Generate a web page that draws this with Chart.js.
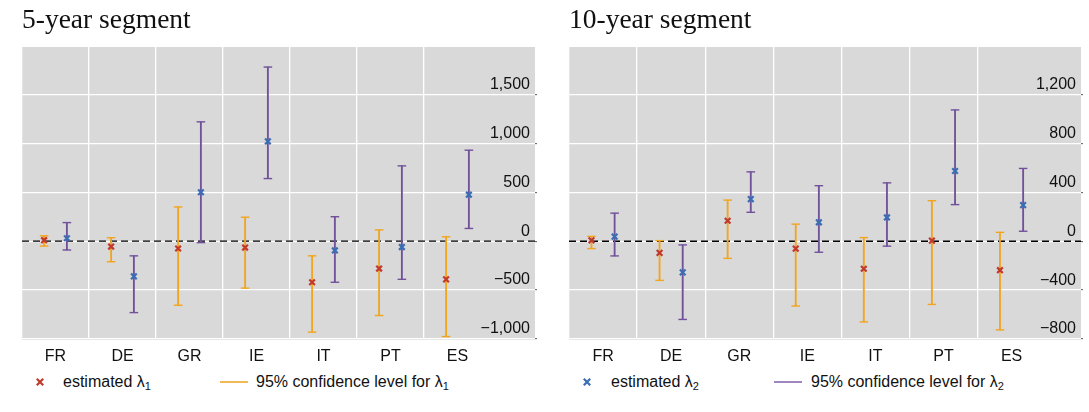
<!DOCTYPE html>
<html>
<head>
<meta charset="utf-8">
<script src="https://cdn.jsdelivr.net/npm/chart.js@4/dist/chart.umd.min.js"></script>
<style>
  body { margin: 0; background: #fff; width: 1089px; height: 412px; position: relative; overflow: hidden;
         font-family: "Liberation Sans", Arial, sans-serif; color: #111; }
  .panel { position: absolute; top: 0; height: 372px; }
  .lg { position: absolute; top: 372px; height: 20px; line-height: 20px; font-size: 16px; white-space: nowrap; }
  .lg sub { font-size: 11px; vertical-align: -3px; line-height: 0; }
  .lgline { position: absolute; top: 381px; height: 1.6px; width: 28px; }
  .lgcross { position: absolute; top: 377px; width: 10px; height: 10px; }
</style>
</head>
<body>
<div class="panel" style="left:0;width:545px"><canvas id="seg5"></canvas></div>
<div class="panel" style="left:545px;width:544px"><canvas id="seg10"></canvas></div>

<svg class="lgcross" style="left:35px" viewBox="0 0 10 10"><path d="M1.8 1.8L8.2 8.2M8.2 1.8L1.8 8.2" stroke="#c0392b" stroke-width="2.2"/></svg>
<div class="lg" style="left:63px">estimated λ<sub>1</sub></div>
<div class="lgline" style="left:220px;background:#f4b957"></div>
<div class="lg" style="left:256px">95% confidence level for λ<sub>1</sub></div>

<svg class="lgcross" style="left:582px" viewBox="0 0 10 10"><path d="M1.8 1.8L8.2 8.2M8.2 1.8L1.8 8.2" stroke="#3a6db3" stroke-width="2.2"/></svg>
<div class="lg" style="left:611px">estimated λ<sub>2</sub></div>
<div class="lgline" style="left:774px;background:#9f86bd"></div>
<div class="lg" style="left:811px">95% confidence level for λ<sub>2</sub></div>

<script>
// Country estimates of lambda_1 / lambda_2 with 95% confidence bounds

const countries = ['FR', 'DE', 'GR', 'IE', 'IT', 'PT', 'ES'];

// 5-year segment
const est1Five = [10, -55, -75, -65, -420, -280, -390];
const low1Five = [-50, -210, -655, -480, -930, -760, -975];
const high1Five = [55, 35, 350, 245, -150, 115, 45];
const est2Five = [30, -360, 500, 1020, -95, -60, 475];
const low2Five = [-90, -730, -15, 640, -420, -390, 130];
const high2Five = [190, -150, 1220, 1780, 250, 770, 930];
const yTicksFive = [-1000, -500, 0, 500, 1000, 1500];

// 10-year segment
const est1Ten = [8, -95, 168, -60, -225, 5, -237];
const low1Ten = [-60, -320, -140, -530, -660, -517, -725];
const high1Ten = [40, 5, 337, 140, 30, 332, 73];
const est2Ten = [38, -255, 345, 155, 195, 575, 296];
const low2Ten = [-120, -640, 237, -90, -40, 300, 82];
const high2Ten = [230, -30, 568, 455, 478, 1075, 596];
const yTicksTen = [-800, -400, 0, 400, 800, 1200];

const ORANGE = '#f2a51f';
const PURPLE = '#71529a';
const RED = '#c0392b';
const BLUE = '#3a6db3';
const SHIFT = 0.17; // lambda_1 left of the country, lambda_2 right

const grayArea = {
    id: 'grayArea',
    beforeDraw(chart) {
        const { ctx, chartArea: a } = chart;
        ctx.save();
        ctx.fillStyle = '#d9d9d9';
        ctx.fillRect(a.left, a.top, a.right - a.left, a.bottom - a.top);
        ctx.restore();
    }
};

function fmt(v) {
    const s = Math.abs(v).toLocaleString('en-US');
    return v < 0 ? '\u2212' + s : s;
}

function errorSets(est, low, high, dx, lineColor, markColor) {
    const xs = countries.map((c, i) => i + 1 + dx);
    return [
        {
            type: 'bar',
            data: xs.map((x, i) => ({ x: x, y: [low[i], high[i]] })),
            backgroundColor: lineColor,
            borderWidth: 0,
            barThickness: 1.2,
            grouped: false,
            order: 5
        },
        {
            type: 'scatter',
            data: xs.map((x, i) => ({ x: x, y: low[i] })).concat(xs.map((x, i) => ({ x: x, y: high[i] }))),
            pointStyle: 'line',
            pointRadius: 4.3,
            borderColor: lineColor,
            borderWidth: 1.4,
            order: 4
        },
        {
            type: 'scatter',
            data: xs.map((x, i) => ({ x: x, y: est[i] })),
            pointStyle: 'crossRot',
            pointRadius: 4,
            borderColor: markColor,
            borderWidth: 2.2,
            order: 1
        }
    ];
}

function makeSegment(id, title, s, padLeft, axisWidth, xMax, yMax) {
    const xTickVals = countries.flatMap((c, i) => [i + 0.5, i + 1]);
    new Chart(document.getElementById(id), {
        type: 'scatter',
        data: {
            datasets: [
                {
                    type: 'line',
                    data: [{ x: 0.5, y: 0 }, { x: xMax, y: 0 }],
                    borderColor: '#000',
                    borderWidth: 1.3,
                    borderDash: [7, 4],
                    pointRadius: 0,
                    order: 10
                },
                ...errorSets(s.est1, s.low1, s.high1, -SHIFT, ORANGE, RED),
                ...errorSets(s.est2, s.low2, s.high2, SHIFT, PURPLE, BLUE)
            ]
        },
        options: {
            responsive: true,
            maintainAspectRatio: false,
            animation: false,
            events: [],
            layout: { padding: { left: padLeft, right: 0, top: 0, bottom: 0 } },
            plugins: {
                legend: { display: false },
                tooltip: { enabled: false },
                title: {
                    display: true,
                    text: title,
                    align: 'start',
                    color: '#111',
                    font: { family: '"Liberation Serif", "Times New Roman", serif', size: 27.5, weight: 'normal', lineHeight: 1.2 },
                    padding: { top: 4, bottom: 10 }
                }
            },
            scales: {
                x: {
                    type: 'linear',
                    min: 0.5,
                    max: xMax,
                    offset: false,
                    afterBuildTicks: sc => { sc.ticks = xTickVals.map(v => ({ value: v })); },
                    afterFit: sc => { sc.height = 33; },
                    grid: {
                        offset: false,
                        drawTicks: false,
                        lineWidth: 1.3,
                        color: c => (c.tick && c.tick.value % 1 ? '#ffffff' : 'rgba(0,0,0,0)')
                    },
                    border: { display: true, color: '#e6e6e6', width: 1 },
                    ticks: {
                        autoSkip: false,
                        maxRotation: 0,
                        padding: 8,
                        color: '#111',
                        font: { family: '"Liberation Sans", Arial, sans-serif', size: 16 },
                        callback: v => (Number.isInteger(v) ? countries[v - 1] : '')
                    }
                },
                y: {
                    position: 'right',
                    min: s.ticks[0],
                    max: yMax,
                    afterBuildTicks: sc => { sc.ticks = s.ticks.map(v => ({ value: v })); },
                    afterFit: sc => { sc.width = axisWidth; },
                    grid: { color: '#ffffff', lineWidth: 1.3, tickColor: '#555', tickLength: 2, tickWidth: 1 },
                    border: { display: false },
                    ticks: {
                        mirror: true,
                        padding: -5,
                        labelOffset: -10,
                        color: '#111',
                        font: { family: '"Liberation Sans", Arial, sans-serif', size: 16 },
                        callback: v => fmt(v)
                    }
                }
            }
        },
        plugins: [grayArea]
    });
}

makeSegment('seg5', '5-year segment', {
    est1: est1Five, low1: low1Five, high1: high1Five,
    est2: est2Five, low2: low2Five, high2: high2Five, ticks: yTicksFive
}, 22, 10, 8.157, 1985);

makeSegment('seg10', '10-year segment', {
    est1: est1Ten, low1: low1Ten, high1: high1Ten,
    est2: est2Ten, low2: low2Ten, high2: high2Ten, ticks: yTicksTen
}, 24, 8, 8.02, 1590);
</script>
</body>
</html>
